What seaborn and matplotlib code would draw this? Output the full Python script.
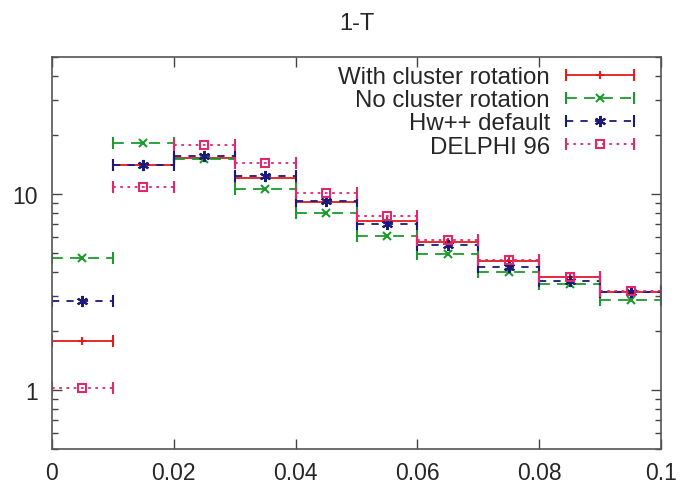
import matplotlib
matplotlib.use("Agg")
import matplotlib.pyplot as plt
import matplotlib.ticker as mticker
from matplotlib.container import ErrorbarContainer
from matplotlib.legend_handler import HandlerErrorbar
import numpy as np
import seaborn as sns

# Bin edges of the 1-T distribution
bin_edges = [0.0, 0.01, 0.02, 0.03, 0.04, 0.05, 0.06, 0.07, 0.08, 0.09, 0.1]

# Values per bin
with_rotation = [1.77, 14.0, 15.2, 12.0, 9.1, 7.31, 5.67, 4.53, 3.76, 3.17]
no_rotation = [4.73, 18.2, 15.0, 10.6, 7.97, 6.13, 4.92, 4.02, 3.47, 2.89]
hw_default = [2.86, 14.0, 15.7, 12.35, 9.18, 7.03, 5.49, 4.23, 3.61, 3.15]
delphi_96 = [1.02, 10.9, 17.85, 14.4, 10.1, 7.7, 5.83, 4.62, 3.78, 3.21]

series_labels = ["With cluster rotation", "No cluster rotation", "Hw++ default", "DELPHI 96"]
x_ticks = [0, 0.02, 0.04, 0.06, 0.08, 0.1]
x_tick_labels = ["0", "0.02", "0.04", "0.06", "0.08", "0.1"]

def main() -> None:
    sns.set_theme(style="ticks")
    plt.rcParams["font.family"] = ["Liberation Sans", "DejaVu Sans"]

    fig = plt.figure(figsize=(6.95, 4.85), dpi=100)
    ax = fig.add_axes([52 / 695, 35 / 485, 609 / 695, 392 / 485])

    edges = np.array(bin_edges)
    centers = (edges[:-1] + edges[1:]) / 2
    half = (edges[1:] - edges[:-1]) / 2

    styles = [
        dict(color="#e41a1c", marker="+", ms=6, ls="-", mfc="#e41a1c"),
        dict(color="#1b9a2e", marker="x", ms=6, ls=(0, (6, 4)), mfc="#1b9a2e"),
        dict(color="#1a1a7a", marker=(6, 2, 0), ms=8, ls=(0, (4, 4)), mfc="#1a1a7a"),
        dict(color="#e0286e", marker="s", ms=6, ls=(0, (1.5, 2.5)), mfc="none"),
    ]
    for values, label, st in zip(
        [with_rotation, no_rotation, hw_default, delphi_96], series_labels, styles
    ):
        eb = ax.errorbar(
            centers, values, xerr=half,
            fmt="", marker=st["marker"], linestyle="none",
            color=st["color"], ms=st["ms"], mew=1.5,
            mfc=st["mfc"], mec=st["color"],
            elinewidth=1.3, capsize=4, capthick=1.3, label=label,
        )
        eb[2][0].set_linestyle(st["ls"])

    ax.set_yscale("log")
    ax.set_xlim(0, 0.1)
    ax.set_ylim(0.5, 50)
    ax.set_xticks(x_ticks, x_tick_labels)
    ax.yaxis.set_major_locator(mticker.FixedLocator([1, 10]))
    ax.yaxis.set_major_formatter(mticker.FixedFormatter(["1", "10"]))
    ax.yaxis.set_minor_locator(mticker.LogLocator(base=10, subs=np.arange(2, 10)))
    ax.yaxis.set_minor_formatter(mticker.NullFormatter())
    ax.tick_params(which="both", direction="in", top=True, right=True,
                   color="#444444", labelsize=16.5, pad=10)
    ax.tick_params(which="major", length=7, width=1)
    ax.tick_params(which="minor", length=4, width=1)
    ax.tick_params(axis="x", pad=9)
    for spine in ax.spines.values():
        spine.set_color("#555555")
        spine.set_linewidth(1.2)

    ax.set_title("1-T", fontsize=17, pad=20)

    ax.legend(
        loc="upper right", bbox_to_anchor=(0.987, 1.026), frameon=False,
        markerfirst=False, fontsize=17.3, handlelength=2.83, handletextpad=0.67,
        labelspacing=0.05, borderpad=0.3,
        handler_map={ErrorbarContainer: HandlerErrorbar(xerr_size=1.41)},
    )

    fig.savefig("out.png", dpi=100)
    plt.close(fig)

if __name__ == "__main__":
    main()
